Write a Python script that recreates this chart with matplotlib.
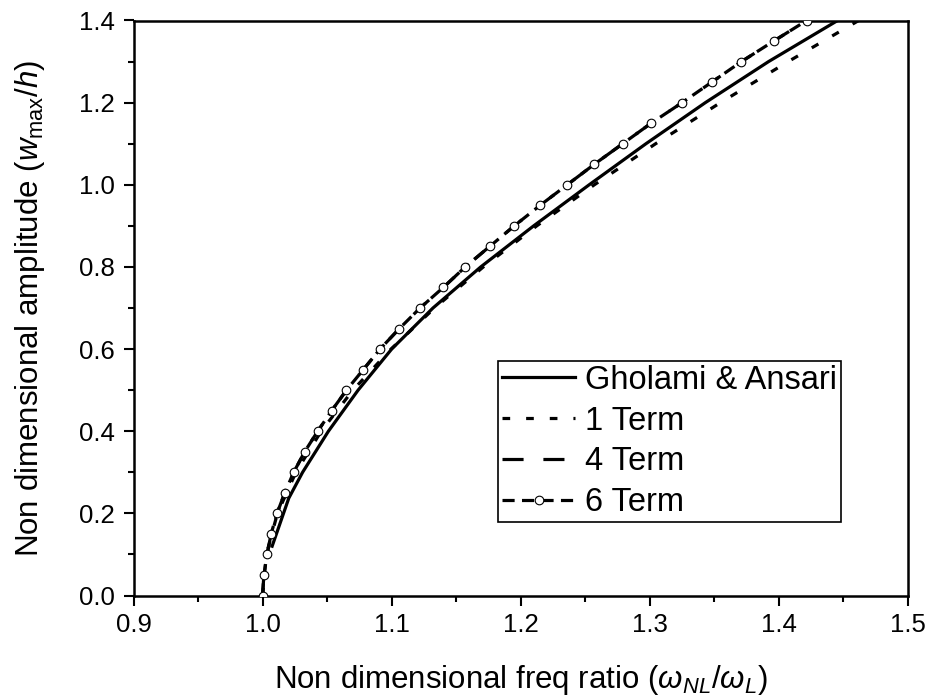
import matplotlib
matplotlib.use("Agg")
import matplotlib.pyplot as plt
from matplotlib.ticker import MultipleLocator, FormatStrFormatter

plt.rcParams['font.family'] = ['Liberation Sans', 'DejaVu Sans']
plt.rcParams['mathtext.fontset'] = 'custom'
plt.rcParams['mathtext.rm'] = 'Liberation Sans'
plt.rcParams['mathtext.it'] = 'Liberation Sans:italic'
plt.rcParams['mathtext.bf'] = 'Liberation Sans:bold'

# ---- data ----
amp_gholami = [0.12, 0.237, 0.30, 0.40, 0.50, 0.60, 0.70, 0.80, 0.90, 1.00, 1.10, 1.20, 1.30, 1.40]
freq_gholami = [1.0074, 1.0203, 1.031, 1.051, 1.074, 1.100, 1.132, 1.169, 1.210, 1.253, 1.297, 1.343, 1.392, 1.4455]

amp_1term = [0.0, 0.1, 0.2, 0.3, 0.4, 0.5, 0.6, 0.7, 0.8, 0.9, 1.0, 1.1, 1.2, 1.3, 1.4]
freq_1term = [1.0, 1.0029, 1.0115, 1.0258, 1.0454, 1.0700, 1.0995, 1.1332, 1.1710, 1.2124,
              1.2570, 1.3045, 1.3547, 1.4072, 1.4618]

amp_4term = [0.00, 0.05, 0.10, 0.15, 0.20, 0.25, 0.30, 0.35, 0.40, 0.45, 0.50, 0.55, 0.60, 0.65, 0.70,
             0.75, 0.80, 0.85, 0.90, 0.95, 1.00, 1.05, 1.10, 1.15, 1.20, 1.25, 1.30, 1.35, 1.40]
freq_4term = [1.000, 1.001, 1.0035, 1.0066, 1.0112, 1.0172, 1.0241, 1.0326, 1.0427, 1.0535, 1.065,
              1.078, 1.091, 1.106, 1.122, 1.140, 1.157, 1.176, 1.195, 1.215, 1.236, 1.257, 1.279,
              1.301, 1.325, 1.348, 1.371, 1.396, 1.4215]

amp_6term = [0.00, 0.05, 0.10, 0.15, 0.20, 0.25, 0.30, 0.35, 0.40, 0.45, 0.50, 0.55, 0.60, 0.65, 0.70,
             0.75, 0.80, 0.85, 0.90, 0.95, 1.00, 1.05, 1.10, 1.15, 1.20, 1.25, 1.30, 1.35, 1.40]
freq_6term = [1.000, 1.001, 1.0035, 1.0066, 1.0112, 1.0172, 1.0241, 1.0326, 1.0427, 1.0535, 1.065,
              1.078, 1.091, 1.106, 1.122, 1.140, 1.157, 1.176, 1.195, 1.215, 1.236, 1.257, 1.279,
              1.301, 1.325, 1.348, 1.371, 1.396, 1.4215]

labels = ['Gholami & Ansari', '1 Term', '4 Term', '6 Term']
xlabel = r'Non dimensional freq ratio ($\omega_{NL}/\omega_{L}$)'
ylabel = r'Non dimensional amplitude ($w_{\mathrm{max}}/h$)'

# ---- figure ----
fig = plt.figure(figsize=(9.28, 6.98), dpi=100)
ax = fig.add_axes([133.5/928, 1-595.5/698, (908-133.5)/928, (595.5-20.5)/698])

lw = 2.3
ax.plot(freq_gholami, amp_gholami, color='black', lw=lw, ls='-', label=labels[0], zorder=3)
ax.plot(freq_1term, amp_1term, color='black', lw=lw, ls=(0, (2.4, 5.0)), label=labels[1], zorder=3)
ax.plot(freq_4term, amp_4term, color='black', lw=lw, ls=(0, (6.6, 6.2)), label=labels[2], zorder=4)
ax.plot(freq_6term, amp_6term, color='black', lw=lw, ls=(0, (3.8, 2.3)), marker='o',
        markersize=6.2, markerfacecolor='white', markeredgecolor='black', markeredgewidth=0.8,
        label=labels[3], zorder=5)

ax.set_xlim(0.9, 1.5)
ax.set_ylim(0.0, 1.4)
ax.xaxis.set_major_locator(MultipleLocator(0.1))
ax.xaxis.set_minor_locator(MultipleLocator(0.05))
ax.yaxis.set_major_locator(MultipleLocator(0.2))
ax.yaxis.set_minor_locator(MultipleLocator(0.1))
ax.xaxis.set_major_formatter(FormatStrFormatter('%.1f'))
ax.yaxis.set_major_formatter(FormatStrFormatter('%.1f'))

for s in ax.spines.values():
    s.set_linewidth(1.8)
ax.tick_params(which='major', direction='out', length=7.2, width=1.5, labelsize=18.5,
               top=False, right=False)
ax.tick_params(axis='x', which='major', pad=5.5)
ax.tick_params(axis='y', which='major', pad=6.5)
ax.tick_params(which='minor', direction='out', length=4.2, width=1.5, top=False, right=False)

ax.set_xlabel(xlabel, fontsize=22.5, labelpad=18.5)
ax.set_ylabel(ylabel, fontsize=22.5, labelpad=23)

leg = ax.legend(loc='upper left', bbox_to_anchor=((498-133.5)/774.5, (595.5-361)/575),
                borderaxespad=0, fontsize=23.5, frameon=True, fancybox=False, framealpha=1,
                edgecolor='black', handlelength=2.25, handletextpad=0.3, borderpad=0.12,
                labelspacing=0.3)
leg.get_frame().set_linewidth(1.2)

fig.savefig('out.png', dpi=100)
